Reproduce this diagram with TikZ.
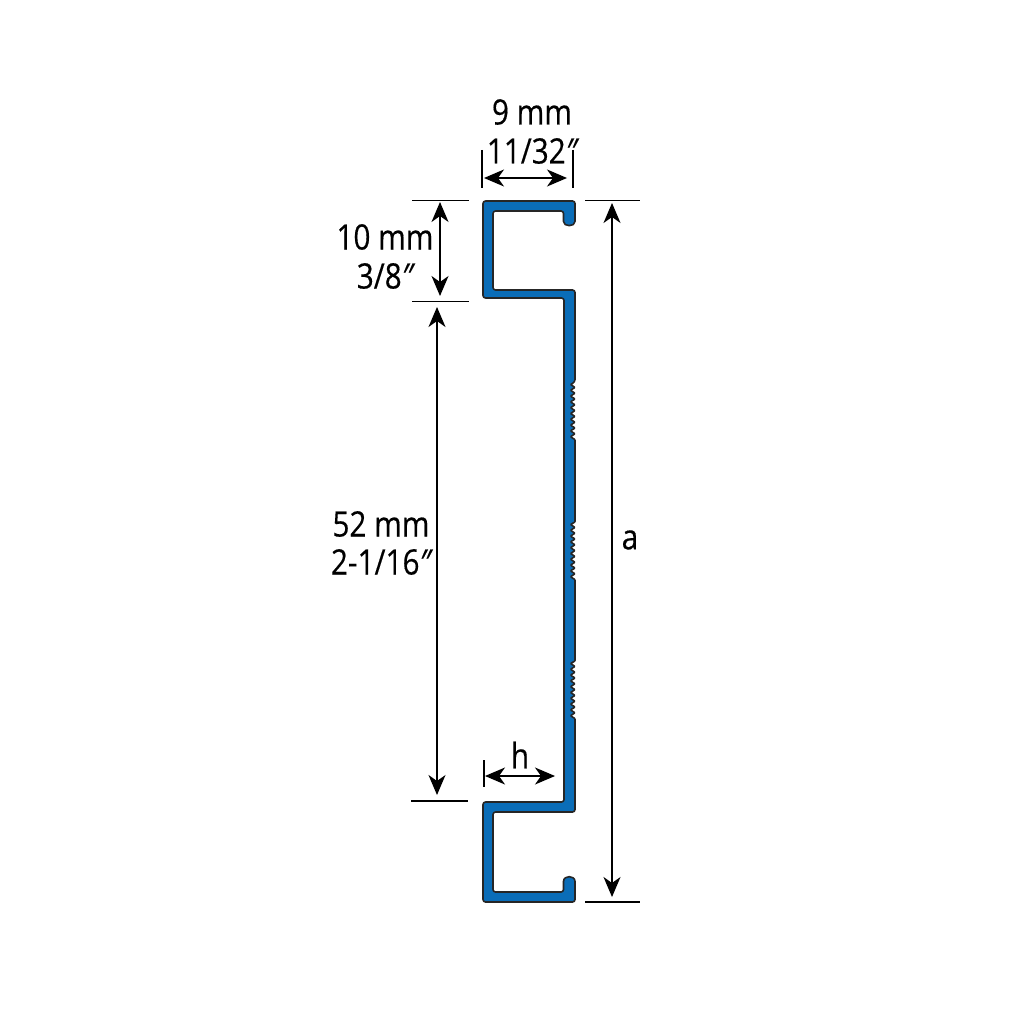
\documentclass[tikz,border=0pt]{standalone}
\usepackage{fontspec}
\setmainfont{Open Sans}[FakeBold=0.35]
\usetikzlibrary{arrows.meta}
\definecolor{profileblue}{HTML}{0A6DB8}
\newcommand\dimsize{\fontsize{35}{42}\selectfont}
\newcommand\inchmark{{\itshape ″}}
\tikzset{
dimtext/.style={inner sep=0pt,align=center,xscale=0.85,font=\dimsize},
dimline/.style={line width=1.3pt,{Stealth[length=20pt,width=17pt,inset=6pt]}-{Stealth[length=20pt,width=17pt,inset=6pt]}},
tick/.style={line width=1.1pt,black},
profile/.style={draw=black!85,line width=1.6pt,fill=profileblue,line join=round}
}
\begin{document}
\begin{tikzpicture}[x=1pt,y=-1pt]
\useasboundingbox (0,0) rectangle (1024,1024);

%profile:
\draw[profile,rounded corners=2.5pt] (483,201) -- (575,201) -- (575,219)
  .. controls (575,227) and (563.5,227) .. (563.5,219) -- (563.5,211) -- (493,211) -- (493,290) -- (575,290)
  -- (575,382) [rounded corners=0.7pt]
  \foreach \y in {0,...,9}{ -- (570.5,384.5+5.8*\y) -- (575,387.4+5.8*\y)} -- (575,522)
  \foreach \y in {0,...,9}{ -- (570.5,524.5+5.8*\y) -- (575,527.4+5.8*\y)} -- (575,661)
  \foreach \y in {0,...,9}{ -- (570.5,663.5+5.8*\y) -- (575,666.4+5.8*\y)} [rounded corners=2.5pt]
  -- (575,812) -- (493,812) -- (493,892) -- (563.5,892) -- (563.5,884)
  .. controls (563.5,875) and (575,875) .. (575,884) -- (575,902) -- (483,902) -- (483,802) -- (564,802) -- (564,298) -- (483,298) -- cycle;

%ticks:
\coordinate (wl1) at (482,150);
\coordinate (wl2) at (482,188);
\coordinate (wr1) at (573,150);
\coordinate (wr2) at (573,188);
\coordinate (tl1) at (412,200.5);
\coordinate (tl2) at (469,200.5);
\coordinate (ml1) at (412,301.5);
\coordinate (ml2) at (469,301.5);
\coordinate (bl1) at (411,801);
\coordinate (bl2) at (468,801);
\coordinate (tr1) at (585,200.5);
\coordinate (tr2) at (640,200.5);
\coordinate (br1) at (585,902);
\coordinate (br2) at (640,902);
\coordinate (hl1) at (484,760);
\coordinate (hl2) at (484,787);
\foreach \a/\b in {wl1/wl2,wr1/wr2,tl1/tl2,ml1/ml2,bl1/bl2,tr1/tr2,br1/br2,hl1/hl2}{%
\draw[tick] (\a) -- (\b);
}

%arrows:
\coordinate (w1) at (484,178);
\coordinate (w2) at (567,178);
\coordinate (f1) at (440,202);
\coordinate (f2) at (440,296);
\coordinate (c1) at (437,307);
\coordinate (c2) at (437,795);
\coordinate (a1) at (612,203);
\coordinate (a2) at (612,897);
\coordinate (h1) at (485,776);
\coordinate (h2) at (555,776);
\foreach \a/\b in {w1/w2,f1/f2,c1/c2,a1/a2,h1/h2}{%
\draw[dimline] (\a) -- (\b);
}

%labels:
\node[dimtext] (lw1) at (532,112) {9 mm};
\node[dimtext] (lw2) at (532,151) {11/32\inchmark};
\node[dimtext] (lf1) at (385,237) {10 mm};
\node[dimtext] (lf2) at (385,276) {3/8\inchmark};
\node[dimtext] (lc1) at (381,524) {52 mm};
\node[dimtext] (lc2) at (381,562) {2-1/16\inchmark};
\node[dimtext] (lh) at (520,755) {h};
\node[dimtext] (la) at (630,540) {a};
\end{tikzpicture}
\end{document}
